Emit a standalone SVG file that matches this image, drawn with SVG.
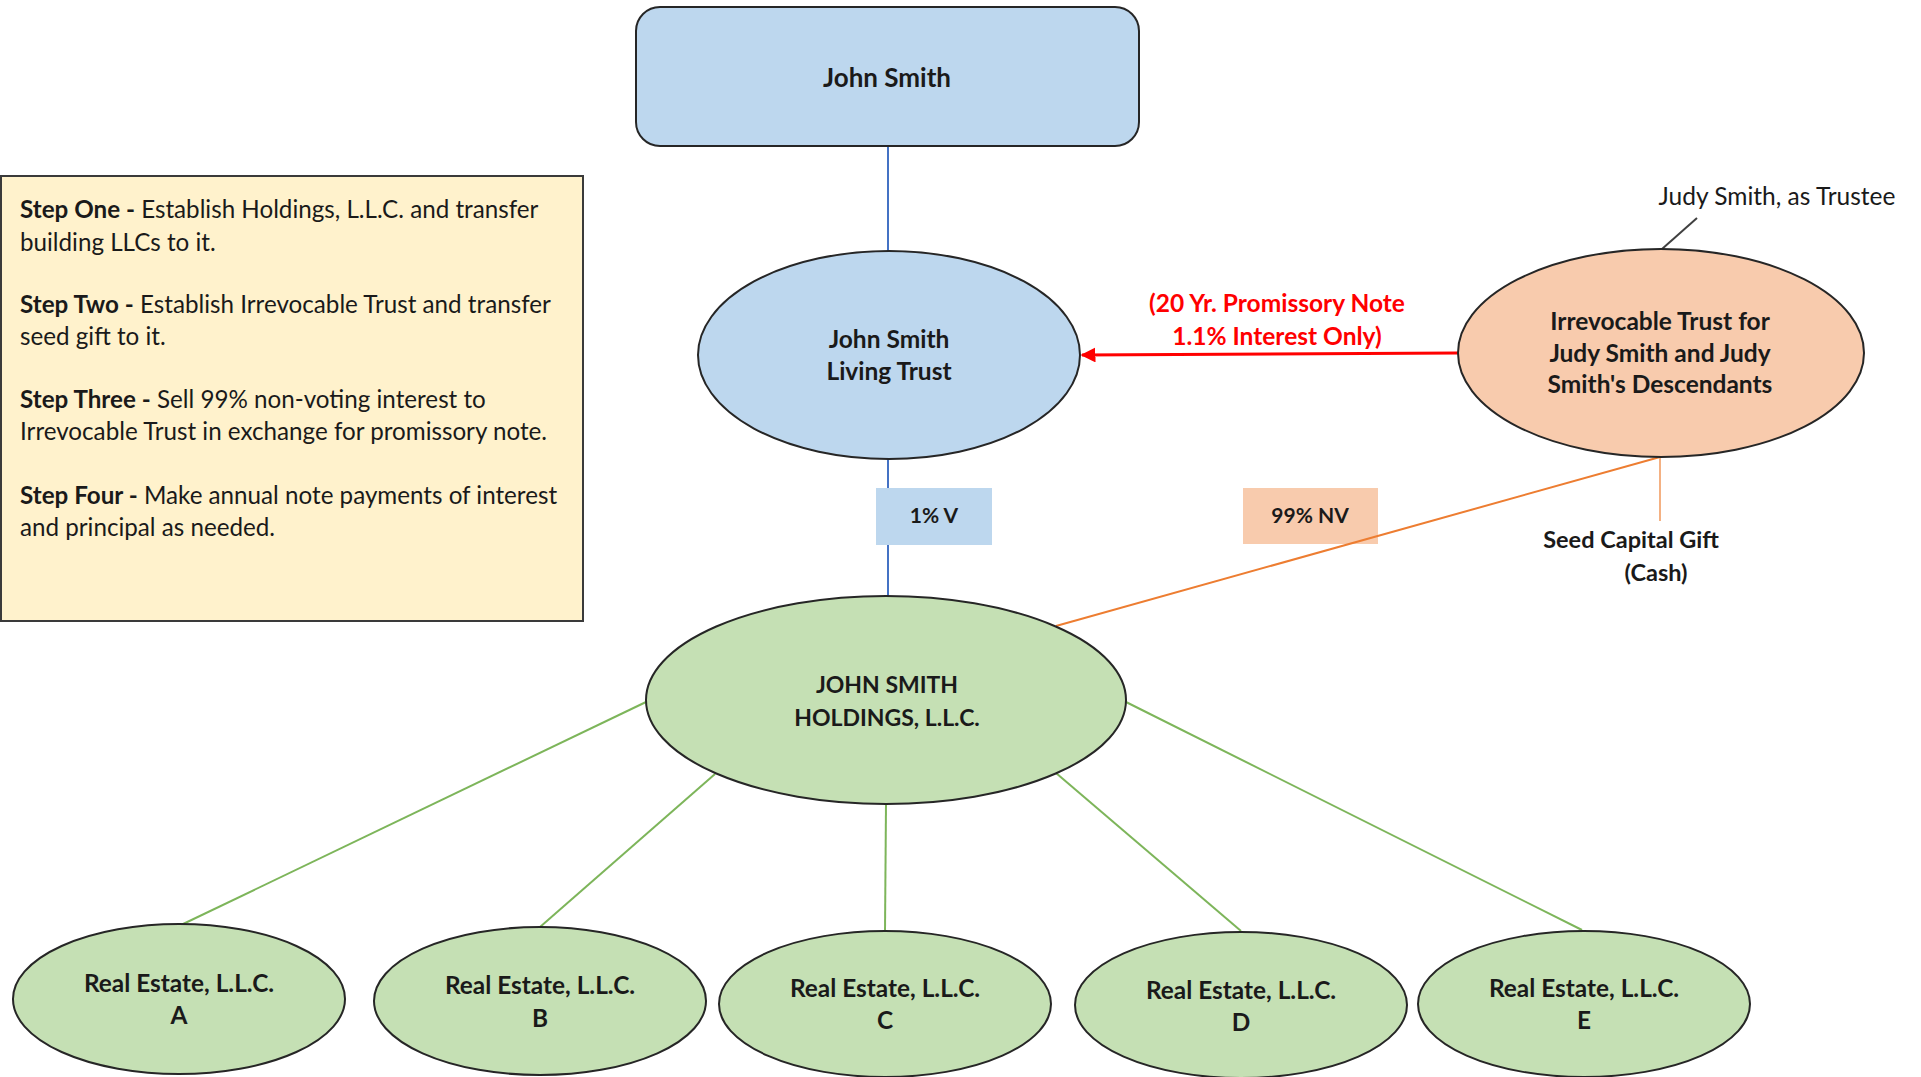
<svg xmlns="http://www.w3.org/2000/svg" width="1921" height="1077" viewBox="0 0 1921 1077">
  <style>
    text { font-family: Lato, "Liberation Sans", sans-serif; fill: #1a1a1a; }
    .node { stroke: #262626; stroke-width: 2; }
    .blue { fill: #BDD7EE; }
    .green { fill: #C5E0B4; }
    .peach { fill: #F8CBAD; }
    .lbl { font-size: 24.5px; font-weight: bold; text-anchor: middle; }
    .re { font-size: 24.4px; font-weight: bold; text-anchor: middle; }
    .step { font-size: 24.2px; }
    .step tspan.b { font-weight: bold; }
    .share { font-size: 21px; font-weight: bold; text-anchor: middle; }
    .g-edge { stroke: #7DB55A; stroke-width: 2; fill: none; }
  </style>
  <defs>
    <marker id="redArrow" viewBox="0 0 10 10" refX="9" refY="5" markerWidth="5" markerHeight="5" orient="auto-start-reverse">
      <path d="M0,0 L10,5 L0,10 z" fill="#FF0000"/>
    </marker>
  </defs>

  <rect width="1921" height="1077" fill="#ffffff"/>

  <!-- ownership share tags -->
  <g id="voting-share">
    <rect x="876" y="488" width="116" height="57" fill="#BDD7EE"/>
    <text class="share" x="934" y="523">1% V</text>
  </g>

  <g id="nonvoting-share">
    <rect x="1243" y="488" width="135" height="56" fill="#F8CBAD"/>
    <text class="share" x="1310" y="523">99% NV</text>
  </g>

  <!-- connectors -->
  <g id="connectors">
    <line x1="888" y1="146" x2="888" y2="252" stroke="#4472C4" stroke-width="2"/>
    <line x1="888" y1="459" x2="888" y2="488" stroke="#4472C4" stroke-width="2"/>
    <line x1="888" y1="545" x2="888" y2="597" stroke="#4472C4" stroke-width="2"/>
    <line x1="1458" y1="353" x2="1082" y2="355" stroke="#FF0000" stroke-width="3" marker-end="url(#redArrow)"/>
    <line x1="1697" y1="218" x2="1662" y2="249" stroke="#404040" stroke-width="2"/>
    <line x1="1660" y1="457" x2="1056" y2="626" stroke="#ED7D31" stroke-width="2"/>
    <line x1="1660" y1="457" x2="1660" y2="521" stroke="#F4B183" stroke-width="2"/>
    <line class="g-edge" x1="646" y1="702" x2="181" y2="925"/>
    <line class="g-edge" x1="715" y1="774" x2="540" y2="927"/>
    <line class="g-edge" x1="886" y1="804" x2="885" y2="931"/>
    <line class="g-edge" x1="1056" y1="773" x2="1241" y2="931"/>
    <line class="g-edge" x1="1126" y1="702" x2="1582" y2="930"/>
  </g>

  <!-- step notes -->
  <g id="steps">
    <rect x="1" y="176" width="582" height="445" fill="#FFF2CC" stroke="#3a3a3a" stroke-width="2"/>
    <text class="step" x="20" y="218"><tspan class="b">Step One -</tspan> Establish Holdings, L.L.C. and transfer</text>
    <text class="step" x="20" y="251">building LLCs to it.</text>
    <text class="step" x="20" y="313"><tspan class="b">Step Two -</tspan> Establish Irrevocable Trust and transfer</text>
    <text class="step" x="20" y="345">seed gift to it.</text>
    <text class="step" x="20" y="408"><tspan class="b">Step Three -</tspan> Sell 99% non-voting interest to</text>
    <text class="step" x="20" y="440">Irrevocable Trust in exchange for promissory note.</text>
    <text class="step" x="20" y="504"><tspan class="b">Step Four -</tspan> Make annual note payments of interest</text>
    <text class="step" x="20" y="536">and principal as needed.</text>
  </g>

  <g id="john-smith">
    <rect class="node blue" x="636" y="7" width="503" height="139" rx="24"/>
    <text class="lbl" x="887" y="87" style="font-size:26px">John Smith</text>
  </g>

  <g id="living-trust">
    <ellipse class="node blue" cx="889" cy="355" rx="191" ry="104"/>
    <text class="lbl" x="889" y="348">John Smith</text>
    <text class="lbl" x="889" y="380">Living Trust</text>
  </g>

  <g id="irrevocable-trust">
    <ellipse class="node peach" cx="1661" cy="353" rx="203" ry="104"/>
    <text class="lbl" x="1660" y="330">Irrevocable Trust for</text>
    <text class="lbl" x="1660" y="362">Judy Smith and Judy</text>
    <text class="lbl" x="1660" y="393">Smith's Descendants</text>
  </g>

  <g id="trustee-label">
    <text x="1777" y="205" font-size="24.5" text-anchor="middle">Judy Smith, as Trustee</text>
  </g>

  <g id="note-label">
    <text class="lbl" x="1277" y="312" style="fill:#FF0000">(20 Yr. Promissory Note</text>
    <text class="lbl" x="1277" y="345" style="fill:#FF0000">1.1% Interest Only)</text>
  </g>

  <g id="seed-gift-label">
    <text class="lbl" x="1631" y="548" style="font-size:23.5px">Seed Capital Gift</text>
    <text class="lbl" x="1656" y="581" style="font-size:23.5px">(Cash)</text>
  </g>

  <g id="holdings">
    <ellipse class="node green" cx="886" cy="700" rx="240" ry="104"/>
    <text class="lbl" x="887" y="693" style="font-size:23px">JOHN SMITH</text>
    <text class="lbl" x="887" y="726" style="font-size:23px">HOLDINGS, L.L.C.</text>
  </g>

  <g id="real-estate-a">
    <ellipse class="node green" cx="179" cy="999" rx="166" ry="75"/>
    <text class="re" x="179" y="992">Real Estate, L.L.C.</text>
    <text class="re" x="179" y="1024">A</text>
  </g>
  <g id="real-estate-b">
    <ellipse class="node green" cx="540" cy="1001" rx="166" ry="74"/>
    <text class="re" x="540" y="994">Real Estate, L.L.C.</text>
    <text class="re" x="540" y="1027">B</text>
  </g>
  <g id="real-estate-c">
    <ellipse class="node green" cx="885" cy="1004" rx="166" ry="73"/>
    <text class="re" x="885" y="997">Real Estate, L.L.C.</text>
    <text class="re" x="885" y="1029">C</text>
  </g>
  <g id="real-estate-d">
    <ellipse class="node green" cx="1241" cy="1005" rx="166" ry="73"/>
    <text class="re" x="1241" y="999">Real Estate, L.L.C.</text>
    <text class="re" x="1241" y="1031">D</text>
  </g>
  <g id="real-estate-e">
    <ellipse class="node green" cx="1584" cy="1004" rx="166" ry="73"/>
    <text class="re" x="1584" y="997">Real Estate, L.L.C.</text>
    <text class="re" x="1584" y="1029">E</text>
  </g>
</svg>
